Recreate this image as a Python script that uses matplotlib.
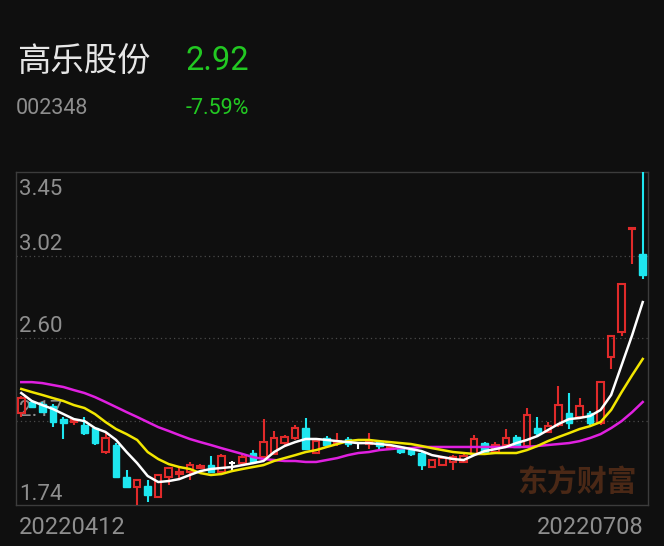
# 高乐股份 K线图 — 日线 + MA5/MA10/MA20
import matplotlib
matplotlib.use('Agg')
import matplotlib.pyplot as plt
from matplotlib.patches import Rectangle

# ── Дані ───────────────────────────────────────────────
NAME, CODE   = '高乐股份', '002348'
PRICE, CHG   = '2.92', '-7.59%'
DATES        = ['20220412', '20220708']
Y_TICKS      = [1.74, 2.17, 2.60, 3.02, 3.45]
WATERMARK    = '东方财富'

OPEN  = [2.21, 2.27, 2.26, 2.25, 2.18, 2.165, 2.15, 2.135, 2.01, 2.05,
         1.885, 1.83, 1.84, 1.78, 1.885, 1.90, 1.91, 1.93, 1.945, 1.91,
         1.955, 1.955, 2.005, 1.985, 2.00, 2.06, 2.085, 2.135, 2.005, 2.085,
         2.06, 2.08, 2.06, 2.055, 2.065, 2.03, 2.04, 2.02, 2.005, 1.935,
         1.945, 1.96, 1.96, 2.00, 2.06, 2.01, 2.05, 2.09, 2.045, 2.135,
         2.115, 2.15, 2.215, 2.19, 2.215, 2.16, 2.50, 2.63, 3.155, 3.03]
HIGH  = [2.30, 2.28, 2.27, 2.26, 2.19, 2.18, 2.19, 2.14, 2.11, 2.06,
         1.92, 1.87, 1.87, 1.895, 1.935, 1.935, 1.96, 1.95, 1.99, 2.00,
         1.965, 1.995, 2.02, 2.18, 2.12, 2.10, 2.15, 2.185, 2.075, 2.095,
         2.11, 2.09, 2.065, 2.11, 2.07, 2.05, 2.045, 2.03, 2.01, 1.975,
         1.99, 1.995, 2.00, 2.10, 2.065, 2.065, 2.13, 2.10, 2.24, 2.19,
         2.165, 2.35, 2.315, 2.29, 2.225, 2.37, 2.615, 2.875, 3.165, 3.45]
LOW   = [2.19, 2.24, 2.21, 2.14, 2.08, 2.15, 2.10, 2.05, 2.00, 1.88,
         1.83, 1.74, 1.755, 1.775, 1.845, 1.87, 1.87, 1.925, 1.91, 1.905,
         1.92, 1.95, 1.96, 1.98, 1.995, 2.04, 2.075, 2.03, 2.00, 2.045,
         2.045, 2.04, 2.03, 2.03, 2.03, 2.02, 2.00, 1.99, 1.92, 1.93,
         1.94, 1.92, 1.955, 1.99, 2.005, 2.005, 2.045, 2.035, 2.04, 2.10,
         2.11, 2.14, 2.13, 2.18, 2.15, 2.15, 2.44, 2.61, 2.98, 2.90]
CLOSE = [2.29, 2.245, 2.22, 2.165, 2.16, 2.175, 2.11, 2.06, 2.085, 1.885,
         1.835, 1.87, 1.79, 1.895, 1.93, 1.91, 1.945, 1.94, 1.91, 1.99,
         1.955, 1.985, 1.96, 2.065, 2.085, 2.09, 2.135, 2.03, 2.07, 2.05,
         2.07, 2.055, 2.06, 2.065, 2.045, 2.04, 2.01, 2.00, 1.945, 1.97,
         1.98, 1.985, 1.99, 2.08, 2.01, 2.05, 2.085, 2.04, 2.20, 2.11,
         2.145, 2.255, 2.16, 2.25, 2.16, 2.37, 2.61, 2.875, 3.16, 2.92]

MA5  = [2.315, 2.274, 2.253, 2.233, 2.207, 2.181, 2.171, 2.135, 2.115, 2.074,
        2.012, 1.955, 1.889, 1.858, 1.863, 1.873, 1.894, 1.914, 1.925, 1.930,
        1.935, 1.945, 1.955, 1.966, 2.012, 2.043, 2.063, 2.079, 2.079, 2.074,
        2.068, 2.063, 2.058, 2.058, 2.053, 2.048, 2.038, 2.027, 2.017, 1.996,
        1.986, 1.976, 1.971, 1.996, 2.017, 2.027, 2.038, 2.058, 2.074, 2.094,
        2.125, 2.156, 2.181, 2.187, 2.197, 2.228, 2.305, 2.459, 2.613, 2.782]
MA10 = [2.336, 2.320, 2.305, 2.289, 2.274, 2.253, 2.238, 2.207, 2.166, 2.130,
        2.104, 2.074, 2.012, 1.976, 1.950, 1.935, 1.925, 1.904, 1.894, 1.899,
        1.914, 1.925, 1.935, 1.945, 1.966, 1.981, 1.996, 2.012, 2.022, 2.038,
        2.053, 2.068, 2.074, 2.074, 2.068, 2.063, 2.058, 2.053, 2.043, 2.032,
        2.022, 2.012, 2.007, 2.002, 2.002, 2.007, 2.007, 2.007, 2.022, 2.043,
        2.068, 2.089, 2.109, 2.130, 2.145, 2.166, 2.228, 2.320, 2.407, 2.490]
MA20 = [2.371, 2.371, 2.366, 2.356, 2.346, 2.330, 2.315, 2.294, 2.269, 2.243,
        2.217, 2.192, 2.166, 2.140, 2.120, 2.099, 2.079, 2.063, 2.048, 2.032,
        2.017, 2.002, 1.986, 1.976, 1.971, 1.966, 1.966, 1.961, 1.961, 1.971,
        1.981, 1.996, 2.007, 2.012, 2.022, 2.027, 2.032, 2.032, 2.038, 2.038,
        2.038, 2.038, 2.038, 2.038, 2.038, 2.038, 2.038, 2.038, 2.038, 2.043,
        2.048, 2.053, 2.058, 2.068, 2.084, 2.104, 2.135, 2.171, 2.217, 2.269]

# ── Кольори ────────────────────────────────────────────
BG      = '#0f0f0f'
RED     = '#e02a2a'
CYAN    = '#1ee6ef'
GREEN   = '#22c822'
GRAY    = '#8e8e8e'
W       = 0.62   # ширина свічки

NUM_FONT = ['Roboto', 'DejaVu Sans']
CJK_FONT = ['Noto Sans CJK SC', 'DejaVu Sans']

fig = plt.figure(figsize=(6.64, 5.46), dpi=100)
fig.patch.set_facecolor(BG)
ax = fig.add_axes([16/664, 1 - 505/546, 632/664, 333/546])
ax.set_facecolor(BG)

# Шапка
fig.text(17/664, 1 - 61/546, NAME, fontsize=24, color='#e6e6e6',
         family=CJK_FONT, va='center', ha='left')
fig.text(185/664, 1 - 61/546, PRICE, fontsize=23.5, color=GREEN,
         family=NUM_FONT, va='center', ha='left')
fig.text(16/664, 1 - 108/546, CODE, fontsize=15.5, color=GRAY,
         family=NUM_FONT, va='center', ha='left')
fig.text(186/664, 1 - 108/546, CHG, fontsize=15.5, color=GREEN,
         family=NUM_FONT, va='center', ha='left')

# Сітка
for v in Y_TICKS[1:-1]:
    ax.axhline(v, color='#4a4a4a', lw=0.9, ls=(0, (1, 2.5)), zorder=1)

# Підписи цін
for v in Y_TICKS:
    top = v == max(Y_TICKS)
    ax.annotate(f'{v:.2f}', xy=(0, v), xycoords=('axes fraction', 'data'),
                xytext=(2.2, -5.0 if top else 0.2), textcoords='offset points',
                va='top' if top else 'bottom', ha='left',
                fontsize=16, color=GRAY, family=NUM_FONT, zorder=1)

# Водяний знак
ax.text(0.888, 0.068, WATERMARK, transform=ax.transAxes, fontsize=21.5,
        fontweight='bold', color='#4a2816', family=CJK_FONT,
        ha='center', va='center', zorder=1)

# Свічки
for i, (o, h, l, c) in enumerate(zip(OPEN, HIGH, LOW, CLOSE)):
    if c > o:
        ax.add_patch(Rectangle((i - W/2, o), W, c - o, fill=False,
                               ec=RED, lw=1.5, zorder=3))
        ax.vlines(i, c, h, color=RED, lw=1.5, zorder=3)
        ax.vlines(i, l, o, color=RED, lw=1.5, zorder=3)
    elif c < o:
        ax.add_patch(Rectangle((i - W/2, c), W, o - c, fc=CYAN,
                               ec=CYAN, lw=1.0, zorder=3))
        ax.vlines(i, l, h, color=CYAN, lw=1.5, zorder=3)
    else:
        ax.hlines(c, i - W/2, i + W/2, color='white', lw=1.5, zorder=3)
        ax.vlines(i, l, h, color='white', lw=1.5, zorder=3)

# Ковзні середні
x = range(len(CLOSE))
ax.plot(x, MA20, color='#e020e0', lw=1.8, zorder=4)
ax.plot(x, MA10, color='#f2e600', lw=1.8, zorder=4)
ax.plot(x, MA5,  color='white',   lw=1.8, zorder=4)

ax.set_xlim(-0.5, len(CLOSE) - 0.5)
ax.set_ylim(min(Y_TICKS), max(Y_TICKS))
ax.set_xticks([]); ax.set_yticks([])
for sp in ax.spines.values():
    sp.set_color('#3c3c3c'); sp.set_linewidth(1.0)

# Дати
fig.text(19/664, 1 - 527/546, DATES[0], fontsize=17, color=GRAY,
         family=NUM_FONT, va='center', ha='left')
fig.text(643/664, 1 - 527/546, DATES[1], fontsize=17, color=GRAY,
         family=NUM_FONT, va='center', ha='right')

fig.savefig('out.png', dpi=100, facecolor=BG)
